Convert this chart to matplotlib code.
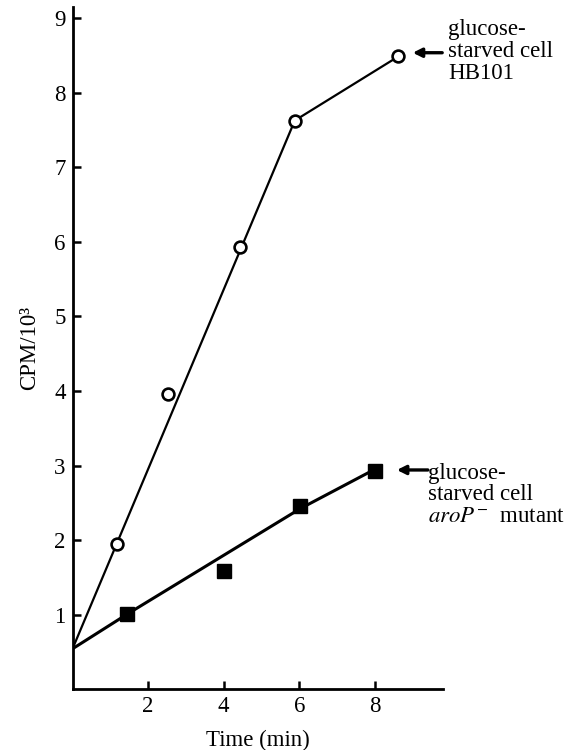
import matplotlib
matplotlib.use('Agg')
import matplotlib.pyplot as plt

plt.rcParams['font.family'] = ['Liberation Serif', 'DejaVu Serif']
plt.rcParams['mathtext.fontset'] = 'stix'

# glucose-starved cell HB101 (open circles)
hb_t = [1.18, 2.53, 4.43, 5.88, 8.62]
hb_cpm = [1.94, 3.96, 5.93, 7.63, 8.49]
hb_fit_t = [0.0, 5.88, 8.62]
hb_fit_cpm = [0.54, 7.63, 8.49]

# glucose-starved cell aroP- mutant (filled squares)
aro_t = [1.43, 4.02, 6.02, 8.0]
aro_cpm = [1.01, 1.58, 2.45, 2.93]
aro_fit_t = [0.0, 1.43, 6.02, 8.0]
aro_fit_cpm = [0.54, 1.0, 2.42, 2.95]

x_ticks = [2, 4, 6, 8]
y_ticks = [1, 2, 3, 4, 5, 6, 7, 8, 9]

fs = 16.5

fig = plt.figure(figsize=(5.77, 7.5), dpi=100)
ax = fig.add_axes([0.1257, 0.0813, 0.642, 0.909])

ax.plot(hb_fit_t, hb_fit_cpm, color='k', lw=1.6, zorder=2)
ax.plot(aro_fit_t, aro_fit_cpm, color='k', lw=2.2, zorder=2)
ax.plot(hb_t, hb_cpm, 'o', ms=8.5, mfc='white', mec='k', mew=1.9, zorder=3)
ax.plot(aro_t, aro_cpm, 's', ms=9.5, mfc='k', mec='k', zorder=3)

ax.set_xlim(0, 9.8)
ax.set_ylim(0, 9.15)
ax.set_xticks(x_ticks)
ax.set_yticks(y_ticks)
ax.tick_params(direction='in', length=6, width=1.8, labelsize=fs, pad=5)
for s in ['top', 'right']:
    ax.spines[s].set_visible(False)
for s in ['left', 'bottom']:
    ax.spines[s].set_linewidth(2.0)

ax.set_xlabel('Time (min)', fontsize=fs, labelpad=9)
ax.set_ylabel('CPM/10³', fontsize=fs, labelpad=10)

# labels with arrows
arrow = dict(arrowstyle='-|>', color='k', lw=2.4, mutation_scale=13,
             shrinkA=0, shrinkB=0)
ax.annotate('', xy=(9.0, 8.54), xytext=(9.78, 8.54), arrowprops=arrow,
            annotation_clip=False)
ax.text(9.93, 8.56, 'glucose-\nstarved cell\nHB101', fontsize=fs,
        va='center', ha='left', linespacing=1.05, clip_on=False)

ax.annotate('', xy=(8.58, 2.94), xytext=(9.4, 2.94), arrowprops=arrow,
            annotation_clip=False)
ax.text(9.4, 3.04, 'glucose-\nstarved cell\n$\\mathit{aroP}^{-}$  mutant',
        fontsize=fs, va='top', ha='left', linespacing=1.05, clip_on=False)

fig.savefig('out.png', dpi=100)
